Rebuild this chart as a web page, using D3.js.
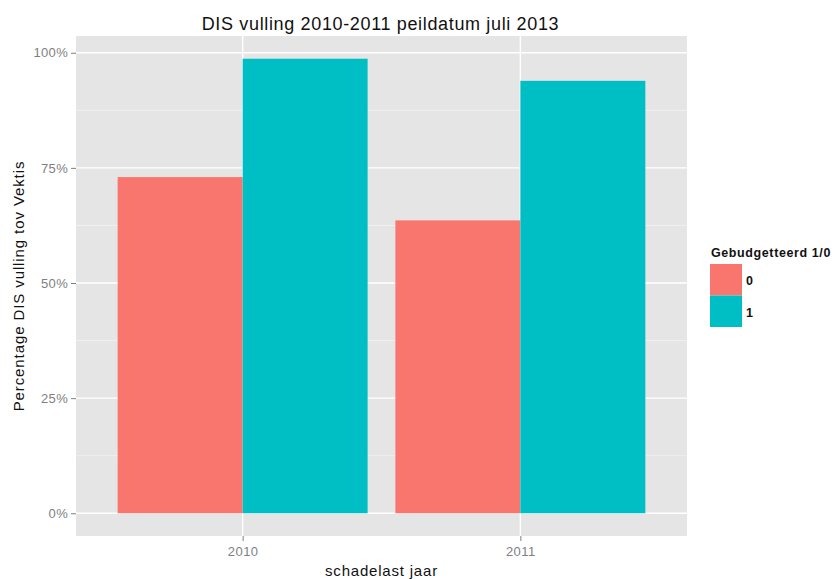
<!DOCTYPE html>
<html><head><meta charset="utf-8">
<script src="https://cdn.jsdelivr.net/npm/d3@7"></script>
<style>body{margin:0;background:#fff}svg{display:block;font-family:Arial,"Liberation Sans",sans-serif}</style>
</head><body><svg id="c" width="835" height="579"></svg>
<script>
const categories = ["2010", "2011"];
const groups = ["0", "1"];
const values0 = [0.730, 0.636];
const values1 = [0.987, 0.939];
const yTicks = [0, 0.25, 0.5, 0.75, 1.0];
const yTickLabels = ["0%", "25%", "50%", "75%", "100%"];
const minorY = [0.125, 0.375, 0.625, 0.875];
const colors = ["#F8766D", "#00BFC4"];
const title = "DIS vulling 2010-2011 peildatum juli 2013";
const xTitle = "schadelast jaar";
const yTitle = "Percentage DIS vulling tov Vektis";
const legendTitle = "Gebudgetteerd 1/0";

const svg = d3.select("#c");
const panel = {l: 76, r: 687, t: 36, b: 536};

const xl = d3.scaleLinear().domain([0.4, 2.6]).range([panel.l, panel.r]);
const xPos = c => xl(categories.indexOf(c) + 1);
const barW = xl(1.45) - xl(1.0);

const ymax = d3.max(values1.concat(values0));
const y = d3.scaleLinear().domain([-0.05 * ymax, ymax * 1.05]).range([panel.b, panel.t]);

svg.append("rect").attr("x", panel.l).attr("y", panel.t).attr("width", panel.r - panel.l).attr("height", panel.b - panel.t).attr("fill", "#E5E5E5");

svg.selectAll(".mny").data(minorY).enter().append("line")
  .attr("x1", panel.l).attr("x2", panel.r).attr("y1", d => y(d)).attr("y2", d => y(d))
  .attr("stroke", "#F2F2F2").attr("stroke-width", 0.8);
svg.selectAll(".mjy").data(yTicks).enter().append("line")
  .attr("x1", panel.l).attr("x2", panel.r).attr("y1", d => y(d)).attr("y2", d => y(d))
  .attr("stroke", "#fff").attr("stroke-width", 1.4);
svg.selectAll(".mjx").data(categories).enter().append("line")
  .attr("y1", panel.t).attr("y2", panel.b).attr("x1", d => xPos(d)).attr("x2", d => xPos(d))
  .attr("stroke", "#fff").attr("stroke-width", 1.4);

const series = [values0, values1];
series.forEach((vals, gi) => {
  svg.selectAll(".b" + gi).data(categories).enter().append("rect")
    .attr("x", (d) => gi === 0 ? xPos(d) - barW : xPos(d))
    .attr("width", barW)
    .attr("y", (d, i) => y(vals[i]))
    .attr("height", (d, i) => y(0) - y(vals[i]))
    .attr("fill", colors[gi]);
});

const yAxis = d3.axisLeft(y).tickValues(yTicks).tickFormat((d, i) => yTickLabels[i]).tickSize(5).tickPadding(3);
const ga = svg.append("g").attr("transform", `translate(${panel.l},0)`).call(yAxis);
ga.select(".domain").remove();
ga.selectAll("line").attr("stroke", "#7F7F7F");
ga.selectAll("text").attr("fill", "#7F7F7F").attr("font-size", 13).attr("letter-spacing", 0.3).attr("font-family", "Arial, 'Liberation Sans', sans-serif");

const xAxis = d3.axisBottom(d3.scaleOrdinal().domain(categories).range(categories.map(xPos))).tickSize(5).tickPadding(6);
const gx = svg.append("g").attr("transform", `translate(0,${panel.b})`).call(xAxis);
gx.select(".domain").remove();
gx.selectAll("line").attr("stroke", "#7F7F7F");
gx.selectAll("text").attr("fill", "#7F7F7F").attr("font-size", 13).attr("letter-spacing", 0.5).attr("font-family", "Arial, 'Liberation Sans', sans-serif");

svg.append("text").attr("x", (panel.l + panel.r) / 2 - 1).attr("y", 30).attr("text-anchor", "middle")
  .attr("font-size", 18).attr("letter-spacing", 0.65).attr("fill", "#111").text(title);
svg.append("text").attr("x", (panel.l + panel.r) / 2).attr("y", 576).attr("text-anchor", "middle")
  .attr("font-size", 15).attr("letter-spacing", 0.8).attr("fill", "#111").text(xTitle);
svg.append("text").attr("transform", `translate(24,${(panel.t + panel.b) / 2}) rotate(-90)`).attr("text-anchor", "middle")
  .attr("font-size", 15).attr("letter-spacing", 0.9).attr("fill", "#111").text(yTitle);

const lg = svg.append("g");
lg.append("text").attr("x", 711).attr("y", 257).attr("font-size", 12.5).attr("letter-spacing", 0.6).attr("font-weight", "bold").attr("fill", "#111").text(legendTitle);
groups.forEach((g, i) => {
  lg.append("rect").attr("x", 710).attr("y", 264 + i * 31.5).attr("width", 32).attr("height", 31.5).attr("fill", colors[i]);
  lg.append("text").attr("x", 746).attr("y", 285 + i * 31.5).attr("font-size", 12.5).attr("font-weight", "bold").attr("fill", "#111").text(g);
});
</script></body></html>
